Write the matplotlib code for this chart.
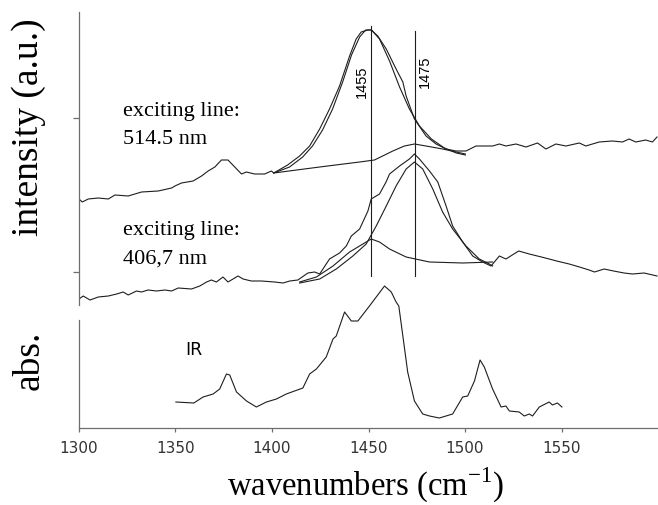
import matplotlib
matplotlib.use("Agg")
import matplotlib.pyplot as plt

# Raman, exciting line 514.5 nm (measured, big fitted band, small 1475 band)
wn_514 = [1300.0, 1301.7, 1304.8, 1310.0, 1315.2, 1318.6, 1325.5, 1332.4, 1341.0, 1348.0,
          1349.7, 1353.1, 1359.1, 1363.5, 1366.9, 1370.4, 1373.8, 1377.2, 1380.7, 1384.2,
          1386.7, 1391.0, 1396.2, 1399.7, 1400.9, 1408.1, 1414.3, 1419.5, 1424.7, 1429.8,
          1435.0, 1440.2, 1443.6, 1446.2, 1449.7, 1451.4, 1454.8, 1459.2, 1464.3, 1467.8,
          1469.5, 1473.8, 1479.8, 1485.0, 1490.2, 1495.3, 1500.5, 1505.7, 1514.3, 1517.8,
          1521.2, 1526.4, 1531.6, 1537.6, 1541.9, 1547.1, 1552.3, 1559.2, 1562.6, 1569.5,
          1576.4, 1581.6, 1585.0, 1588.5, 1593.6, 1597.1, 1599.5]
int_514 = [1.06, 1.03, 1.06, 1.07, 1.06, 1.10, 1.09, 1.13, 1.14, 1.17,
           1.19, 1.22, 1.24, 1.29, 1.34, 1.38, 1.45, 1.45, 1.38, 1.31,
           1.33, 1.31, 1.31, 1.34, 1.32, 1.40, 1.49, 1.59, 1.76, 1.96,
           2.19, 2.49, 2.66, 2.73, 2.75, 2.75, 2.69, 2.56, 2.36, 2.23,
           2.09, 1.86, 1.69, 1.61, 1.56, 1.54, 1.54, 1.59, 1.59, 1.61,
           1.59, 1.61, 1.58, 1.62, 1.56, 1.61, 1.59, 1.62, 1.59, 1.63,
           1.64, 1.63, 1.66, 1.63, 1.65, 1.63, 1.68]

fit_514_wn = [1400.9, 1409.1, 1415.9, 1421.0, 1426.2, 1431.4, 1436.6, 1441.2, 1445.4, 1448.5,
              1451.6, 1455.7, 1460.9, 1466.1, 1471.2, 1476.4, 1482.6, 1489.3, 1495.5, 1500.2]
fit_514_int = [1.32, 1.38, 1.48, 1.59, 1.75, 1.96, 2.23, 2.50, 2.68, 2.75,
               2.75, 2.66, 2.44, 2.18, 1.96, 1.79, 1.66, 1.57, 1.52, 1.50]

band_514_wn = [1400.9, 1424.7, 1445.4, 1453.1, 1462.6, 1468.6, 1473.8, 1479.8, 1488.4, 1500.2]
band_514_int = [1.32, 1.38, 1.43, 1.45, 1.54, 1.59, 1.61, 1.59, 1.56, 1.51]

# Raman, exciting line 406.7 nm
wn_406 = [1300.0, 1302.2, 1305.7, 1310.0, 1315.2, 1319.5, 1322.9, 1325.5, 1329.8, 1332.4,
          1335.8, 1340.2, 1344.5, 1348.0, 1351.4, 1358.3, 1362.6, 1366.1, 1368.6, 1371.2,
          1374.6, 1377.2, 1379.8, 1382.4, 1385.0, 1389.3, 1394.5, 1401.4, 1405.7, 1409.2,
          1413.4, 1418.6, 1422.1, 1424.7, 1429.8, 1435.0, 1438.5, 1441.1, 1445.4, 1449.7,
          1451.4, 1455.7, 1459.1, 1460.9, 1466.1, 1471.2, 1473.8, 1476.4, 1481.6, 1485.9,
          1490.2, 1493.6, 1498.8, 1504.0, 1509.1, 1513.5, 1517.8, 1521.2, 1527.8, 1533.3,
          1539.6, 1543.6, 1547.5, 1554.0, 1559.3, 1564.3, 1567.1, 1572.1, 1577.0, 1582.4,
          1586.8, 1592.8, 1599.5]
int_406 = [0.06, 0.09, 0.05, 0.08, 0.09, 0.11, 0.13, 0.10, 0.14, 0.13,
           0.15, 0.14, 0.15, 0.14, 0.17, 0.16, 0.19, 0.23, 0.25, 0.23,
           0.28, 0.23, 0.26, 0.29, 0.26, 0.24, 0.24, 0.23, 0.22, 0.24,
           0.25, 0.32, 0.33, 0.31, 0.46, 0.52, 0.59, 0.69, 0.76, 0.94,
           1.06, 1.11, 1.23, 1.31, 1.39, 1.46, 1.51, 1.46, 1.34, 1.23,
           0.99, 0.79, 0.63, 0.49, 0.43, 0.39, 0.49, 0.46, 0.54, 0.51,
           0.48, 0.46, 0.44, 0.41, 0.38, 0.35, 0.33, 0.36, 0.34, 0.32,
           0.31, 0.32, 0.29]

band1455_406_wn = [1414.3, 1423.0, 1431.6, 1440.2, 1447.1, 1451.4, 1455.7, 1460.9, 1469.5,
                   1481.6, 1498.8, 1514.3]
band1455_406_int = [0.23, 0.28, 0.39, 0.53, 0.61, 0.66, 0.63, 0.56, 0.48, 0.43, 0.42, 0.43]

band1475_406_wn = [1414.3, 1424.7, 1433.3, 1441.9, 1448.8, 1454.0, 1459.2, 1464.3, 1469.5,
                   1473.8, 1478.1, 1483.3, 1488.4, 1493.6, 1500.5, 1507.4, 1512.6, 1514.3]
band1475_406_int = [0.22, 0.26, 0.36, 0.49, 0.61, 0.79, 0.99, 1.19, 1.36, 1.43,
                    1.36, 1.16, 0.93, 0.76, 0.59, 0.46, 0.41, 0.39]

# IR absorbance
wn_ir = [1350.2, 1359.5, 1364.3, 1369.5, 1372.9, 1376.4, 1378.1, 1381.6, 1386.8, 1391.9,
         1397.1, 1402.3, 1407.4, 1416.0, 1419.5, 1423.0, 1428.1, 1431.6, 1433.3, 1437.6,
         1441.1, 1444.5, 1450.5, 1458.3, 1461.8, 1464.3, 1465.7, 1467.8, 1470.3, 1473.8,
         1478.1, 1481.6, 1486.7, 1493.6, 1498.8, 1501.4, 1504.9, 1507.8, 1510.0, 1514.3,
         1518.7, 1521.2, 1523.0, 1528.1, 1530.7, 1533.3, 1535.0, 1538.5, 1543.6, 1545.3,
         1547.9, 1550.2]
abs_ir = [0.26, 0.25, 0.31, 0.34, 0.39, 0.54, 0.53, 0.36, 0.27, 0.21,
          0.26, 0.29, 0.34, 0.40, 0.54, 0.59, 0.71, 0.89, 0.92, 1.16,
          1.07, 1.07, 1.22, 1.42, 1.36, 1.26, 1.22, 0.92, 0.56, 0.27,
          0.14, 0.12, 0.10, 0.14, 0.31, 0.32, 0.47, 0.68, 0.61, 0.39,
          0.21, 0.22, 0.17, 0.16, 0.12, 0.14, 0.12, 0.21, 0.26, 0.23,
          0.25, 0.21]

band_pos = [1451.3, 1474.2]
band_labels = ['1455', '1475']
band_top = [2.79, 2.74]
band_bottom = 0.29

x_ticks = [1300, 1350, 1400, 1450, 1500, 1550]

line_c = '#1e1e1e'
spine_c = '#6e6e6e'
lw = 0.8
serif = 'Liberation Serif'

fig = plt.figure(figsize=(6.58, 5.06), dpi=100)
ax_r = fig.add_axes([79 / 658, 200 / 506, 579 / 658, 293 / 506])
ax_ir = fig.add_axes([79 / 658, 77 / 506, 579 / 658, 149 / 506], sharex=ax_r)
for ax in (ax_r, ax_ir):
    ax.patch.set_visible(False)
    for s in ('top', 'right'):
        ax.spines[s].set_visible(False)
    ax.spines['left'].set_color(spine_c)
    ax.spines['left'].set_linewidth(0.9)

# Raman panel
ax_r.plot(wn_514, int_514, color=line_c, lw=lw)
ax_r.plot(fit_514_wn, fit_514_int, color=line_c, lw=lw)
ax_r.plot(band_514_wn, band_514_int, color=line_c, lw=lw)
ax_r.plot(wn_406, int_406, color=line_c, lw=lw)
ax_r.plot(band1455_406_wn, band1455_406_int, color=line_c, lw=lw)
ax_r.plot(band1475_406_wn, band1475_406_int, color=line_c, lw=lw)
for pos, top in zip(band_pos, band_top):
    ax_r.plot([pos, pos], [band_bottom, top], color=line_c, lw=lw)
ax_r.text(band_pos[0] - 1.2, 2.24, band_labels[0], rotation=90, ha='right', va='center',
          family='Liberation Sans', fontsize=10.5)
ax_r.text(band_pos[1] + 1.2, 2.34, band_labels[1], rotation=90, ha='left', va='center',
          family='Liberation Sans', fontsize=10.5)
ax_r.text(1323, 1.90, 'exciting line:', family=serif, fontsize=16, va='baseline')
ax_r.text(1323, 1.62, '514.5 nm', family=serif, fontsize=16, va='baseline')
ax_r.text(1323, 0.71, 'exciting line:', family=serif, fontsize=16, va='baseline')
ax_r.text(1323, 0.425, '406,7 nm', family=serif, fontsize=16, va='baseline')
ax_r.set_ylim(0, 2.93)
ax_r.set_yticks([0.33, 1.87])
ax_r.tick_params(axis='y', labelleft=False, direction='out', length=4.5, width=0.9,
                 color=spine_c)
ax_r.spines['bottom'].set_visible(False)
ax_r.tick_params(axis='x', bottom=False, labelbottom=False)

# IR panel
ax_ir.plot(wn_ir, abs_ir, color=line_c, lw=lw)
ax_ir.text(1355, 0.79, 'IR', family='DejaVu Sans', fontsize=12.5, va='center')
ax_ir.set_ylim(0, 1.49)
ax_ir.spines['left'].set_bounds(0, 1.08)
ax_ir.set_yticks([])
ax_ir.spines['bottom'].set_color(spine_c)
ax_ir.spines['bottom'].set_linewidth(0.9)
ax_ir.set_xlim(1300, 1600)
ax_ir.set_xticks(x_ticks)
ax_ir.set_xticklabels([str(t) for t in x_ticks], family='DejaVu Sans', fontsize=11,
                      color='#333333')
ax_ir.tick_params(axis='x', direction='out', length=3, width=0.9, color=spine_c, pad=6)

fig.text(29 / 658, 1 - 127 / 506, 'intensity (a.u.)', rotation=90, ha='center', va='center',
         family=serif, fontsize=27)
fig.text(29 / 658, 1 - 360 / 506, 'abs.', rotation=90, ha='center', va='center',
         family=serif, fontsize=27)
fig.text(366 / 658, 1 - 485 / 506, r'wavenumbers (cm$^{\mathregular{-1}}$)', ha='center',
         va='center', family=serif, fontsize=23.5)

fig.savefig('out.png', dpi=100)
